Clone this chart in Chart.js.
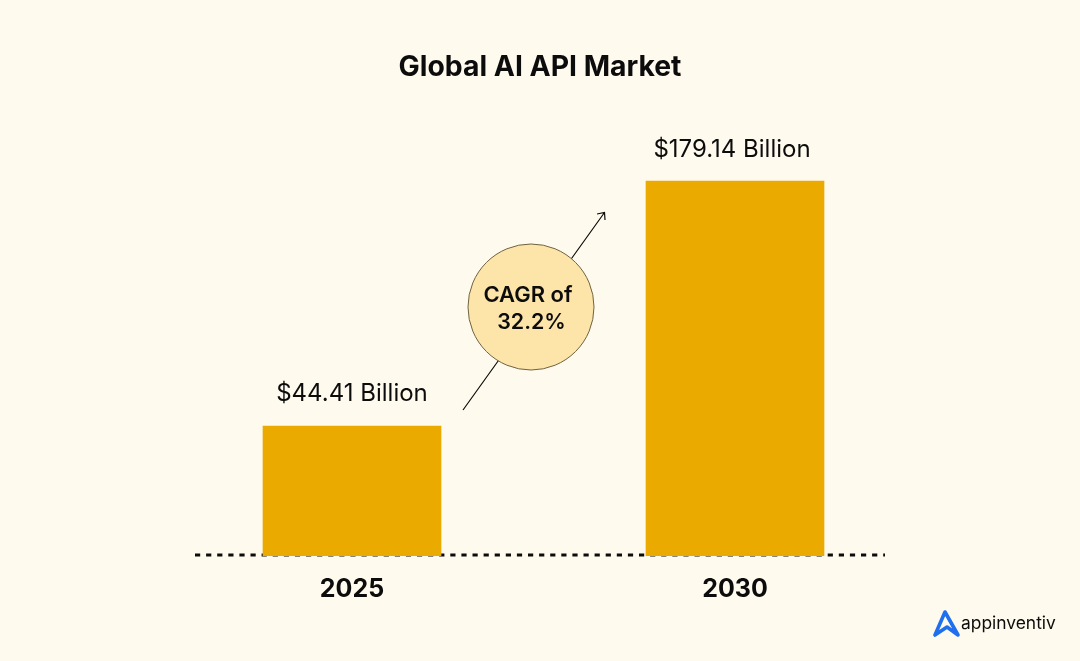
<!DOCTYPE html>
<html>
<head>
<meta charset="utf-8">
<title>Global AI API Market</title>
<script src="https://cdn.jsdelivr.net/npm/chart.js@4"></script>
<style>
  html, body { margin: 0; padding: 0; background: #fffaee; }
  canvas { display: block; }
</style>
</head>
<body>
<canvas id="grafica" width="1080" height="661"></canvas>
<script>
// Data
const years = ['2025', '2030'];
const marketBillions = [44.41, 179.14];
const valueLabels = ['$44.41 Billion', '$179.14 Billion'];
const cagrLines = ['CAGR of', '32.2%'];

const FONT = 'Inter, "Noto Sans", sans-serif';
const INK = '#0c0c0c';

// dashed baseline goes behind the bars
const baseline = {
    id: 'baseline',
    beforeDatasetsDraw(chart) {
        const c = chart.ctx;
        c.save();
        c.strokeStyle = INK;
        c.lineWidth = 3;
        c.setLineDash([5.2, 5.9]);
        c.beginPath();
        c.moveTo(195, 555);
        c.lineTo(885, 555);
        c.stroke();
        c.restore();
    }
};

// value labels, CAGR bubble with arrow, logo
const extras = {
    id: 'extras',
    afterDatasetsDraw(chart) {
        const c = chart.ctx;
        const bars = chart.getDatasetMeta(0).data;
        c.save();

        c.fillStyle = INK;
        c.font = '400 24px ' + FONT;
        c.textAlign = 'center';
        c.textBaseline = 'alphabetic';
        c.fillText(valueLabels[0], bars[0].x, bars[0].y - 25);
        c.fillText(valueLabels[1], bars[1].x - 3, bars[1].y - 24);

        // arrow
        c.strokeStyle = INK;
        c.lineWidth = 1.2;
        c.beginPath();
        c.moveTo(463, 410);
        c.lineTo(604.5, 212.5);
        c.moveTo(597, 214);
        c.lineTo(604.5, 212.5);
        c.lineTo(605, 220);
        c.stroke();

        // bubble
        c.beginPath();
        c.arc(531, 307, 63, 0, Math.PI * 2);
        c.fillStyle = '#fde5a9';
        c.fill();
        c.strokeStyle = '#6f6240';
        c.lineWidth = 1;
        c.stroke();

        c.fillStyle = INK;
        c.font = '600 22px ' + FONT;
        c.fillText(cagrLines[0], 528, 302);
        c.font = '600 21.4px ' + FONT;
        c.fillText(cagrLines[1], 531.5, 329);

        // logo
        c.strokeStyle = '#1f6fee';
        c.lineWidth = 3.6;
        c.lineJoin = 'round';
        c.lineCap = 'round';
        c.beginPath();
        c.moveTo(935, 635);
        c.lineTo(945, 612);
        c.lineTo(958, 635);
        c.lineTo(947, 627);
        c.lineTo(935, 635);
        c.stroke();

        c.fillStyle = INK;
        c.font = '400 17.4px ' + FONT;
        c.textAlign = 'left';
        c.fillText('appinventiv', 961, 629);
        c.restore();
    }
};

new Chart(document.getElementById('grafica').getContext('2d'), {
    type: 'bar',
    data: {
        labels: years,
        datasets: [{
            data: marketBillions,
            backgroundColor: '#eaaa00',
            barThickness: 178,
            base: -27.08
        }]
    },
    options: {
        responsive: false,
        animation: false,
        layout: { padding: { left: 153.5, right: 153.5, top: 0, bottom: 0 } },
        plugins: {
            legend: { display: false },
            tooltip: { enabled: false },
            title: {
                display: true,
                text: 'Global AI API Market',
                color: INK,
                font: { family: FONT, size: 28.3, weight: '700', lineHeight: 1.2 },
                padding: { top: 51, bottom: 15 }
            }
        },
        scales: {
            x: {
                grid: { display: false, drawTicks: false },
                border: { display: false },
                ticks: {
                    color: INK,
                    padding: 18,
                    font: { family: FONT, size: 25, weight: '700' }
                },
                afterFit(scale) { scale.height = 105; }
            },
            y: {
                min: -27.08,
                max: 223.68,
                grid: { display: false, drawTicks: false },
                border: { display: false },
                ticks: { display: false },
                afterFit(scale) { scale.width = 7; }
            }
        }
    },
    plugins: [baseline, extras]
});
</script>
</body>
</html>
